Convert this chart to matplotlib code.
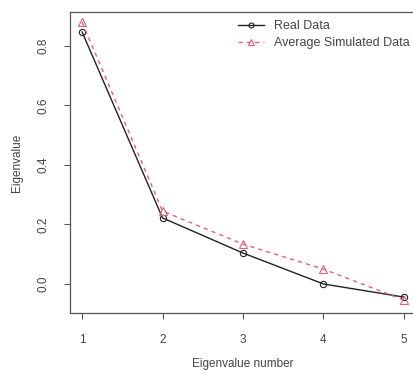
import matplotlib
matplotlib.use("Agg")
import matplotlib.pyplot as plt

# ---------- DATA ----------
eigen_number = [1, 2, 3, 4, 5]
real_data = [0.847, 0.222, 0.104, 0.0, -0.044]
simulated_data = [0.880, 0.245, 0.134, 0.050, -0.054]
y_ticks = [0.0, 0.2, 0.4, 0.6, 0.8]

plt.rcParams["font.family"] = ["Liberation Sans", "DejaVu Sans"]

W, H = 414, 374
fig = plt.figure(figsize=(W / 100, H / 100), dpi=100)
# axes box runs slightly past the right edge, as in the cropped original
ax = fig.add_axes([70 / W, (H - 313) / H, 346 / W, 301 / H])

axis_col = "#555555"
ax.plot(eigen_number, real_data, color="#222222", lw=1.0, marker="o",
        ms=4.5, mfc="none", mew=0.8, label="Real Data")
ax.plot(eigen_number, simulated_data, color="#e0607a", lw=1.0, ls=(0, (3, 3)),
        marker="^", ms=5.5, mfc="none", mew=0.8, label="Average Simulated Data")

ax.set_xlim(0.85, 5.15)
ax.set_ylim(-0.0975, 0.914)
ax.set_xticks(eigen_number)
ax.set_yticks(y_ticks)
ax.set_yticklabels([f"{v:.1f}" for v in y_ticks], rotation=90, va="center")
ax.tick_params(colors=axis_col, labelcolor="#444444", labelsize=8.5,
               length=4, width=0.8, pad=11)
for s in ax.spines.values():
    s.set_color(axis_col)
    s.set_linewidth(0.9)

ax.set_xlabel("Eigenvalue number", fontsize=8.5, color="#444444", labelpad=9)
ax.set_ylabel("Eigenvalue", fontsize=8.5, color="#444444", labelpad=10)

leg = ax.legend(loc="upper left", bbox_to_anchor=(0.486, 0.972), frameon=False,
                fontsize=9, handlelength=2.1, labelspacing=0.4,
                handletextpad=0.8, borderaxespad=0, borderpad=0,
                markerscale=0.8)
for t in leg.get_texts():
    t.set_color("#444444")

fig.savefig("out.png", dpi=100)
